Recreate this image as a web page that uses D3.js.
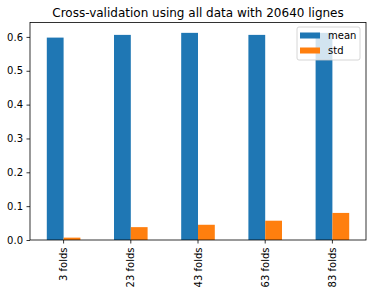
<!DOCTYPE html>
<html><head><meta charset="utf-8">
<script src="https://cdn.jsdelivr.net/npm/d3@7"></script>
<style>body{margin:0;background:#fff}svg{display:block;font-family:"DejaVu Sans",sans-serif}</style>
</head><body><svg id="c" width="372" height="294"></svg>
<script>
const categories = ["3 folds","23 folds","43 folds","63 folds","83 folds"];
const meanValues = [0.598, 0.606, 0.612, 0.606, 0.612];
const stdValues = [0.007, 0.038, 0.045, 0.057, 0.080];
const yTicks = [0.0,0.1,0.2,0.3,0.4,0.5,0.6];
const seriesNames = ["mean","std"];
const colors = ["#1f77b4","#ff7f0e"];
const title = "Cross-validation using all data with 20640 lignes";

const svg = d3.select("#c");
const L=30, R=366, T=22.5, B=240;
const x = d3.scaleBand().domain(categories).range([L,R]).padding(0);
const y = d3.scaleLinear().domain([0,0.6426]).range([B,T]);
const data = [meanValues, stdValues];
const bw = x.bandwidth()*0.25;

data.forEach((vals,si)=>{
  svg.append("g").selectAll("rect").data(vals).join("rect")
    .attr("x",(d,i)=>x(categories[i])+x.bandwidth()/2 - bw + si*bw)
    .attr("width",bw)
    .attr("y",d=>y(d)).attr("height",d=>B-y(d))
    .attr("fill",colors[si]);
});

const ya = svg.append("g").attr("transform",`translate(${L},0)`)
  .call(d3.axisLeft(y).tickValues(yTicks).tickFormat(d3.format(".1f")).tickSize(3.5).tickPadding(3.5));
const xa = svg.append("g").attr("transform",`translate(0,${B})`)
  .call(d3.axisBottom(x).tickSize(3.5).tickPadding(3.5));
[ya,xa].forEach(a=>{a.attr("font-family","DejaVu Sans").attr("font-size",10);a.select(".domain").remove();a.selectAll("text").attr("fill","#000");a.selectAll("line").attr("stroke","#000").attr("stroke-width",0.8);});
xa.selectAll("text").attr("transform","rotate(-90)").attr("text-anchor","end")
  .attr("x",-7.5).attr("y",0).attr("dy","0.35em");

svg.append("rect").attr("x",L).attr("y",T).attr("width",R-L).attr("height",B-T)
  .attr("fill","none").attr("stroke","#000").attr("stroke-width",0.8);

svg.append("text").attr("x",(L+R)/2).attr("y",17).attr("text-anchor","middle")
  .attr("font-size",12).text(title);

const lg = svg.append("g");
lg.append("rect").attr("x",297).attr("y",27).attr("width",63).attr("height",33).attr("rx",2)
  .attr("fill","#fff").attr("fill-opacity",0.8).attr("stroke","#ccc").attr("stroke-width",0.8);
seriesNames.forEach((n,i)=>{
  lg.append("rect").attr("x",300).attr("y",32.5+i*15).attr("width",20).attr("height",6).attr("fill",colors[i]);
  lg.append("text").attr("x",328).attr("y",35.5+i*15).attr("dy","0.35em").attr("font-size",10).text(n);
});
</script></body></html>
